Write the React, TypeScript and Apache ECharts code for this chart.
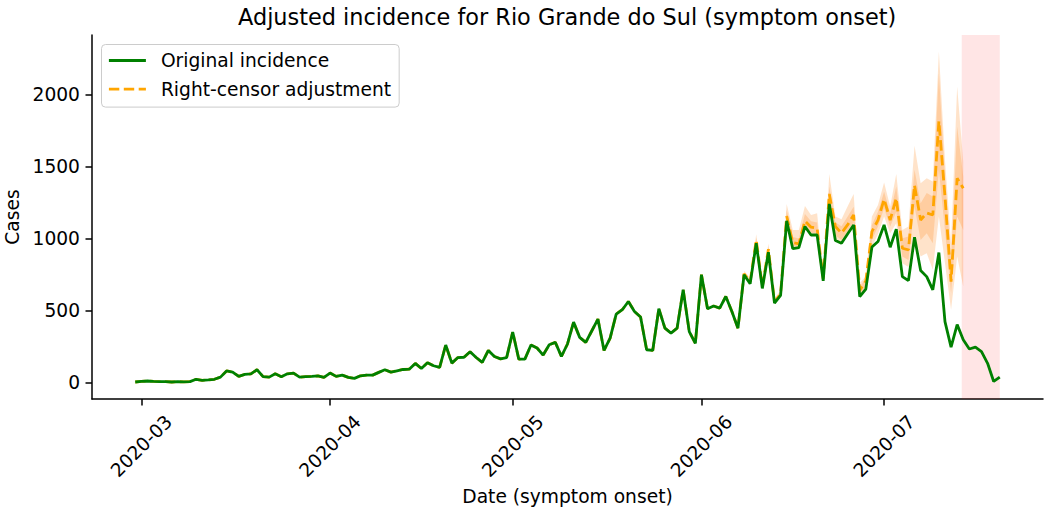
import React, { useEffect, useRef } from "react";
import * as echarts from "echarts";

// ---- data ----
const START_DATE = "2020-02-29"; // first day of the series (index 0)
const TITLE = "Adjusted incidence for Rio Grande do Sul (symptom onset)";
const X_NAME = "Date (symptom onset)";
const Y_NAME = "Cases";
const SERIES_ORIGINAL = "Original incidence";
const SERIES_ADJUSTED = "Right-censor adjustment";

const xTickLabels = ["2020-03", "2020-04", "2020-05", "2020-06", "2020-07"];
const yTicks = [0, 500, 1000, 1500, 2000];

// daily original incidence, 2020-02-29 .. 2020-07-20
const original = [
  3, 8, 10, 7, 6, 5, 3, 5, 4, 6,
  22, 15, 18, 22, 37, 80, 72, 42, 56, 60,
  88, 40, 37, 60, 40, 60, 65, 37, 40, 42,
  46, 35, 65, 42, 51, 35, 28, 46, 51, 51,
  70, 88, 72, 81, 90, 92, 132, 97, 137, 116,
  104, 260, 134, 173, 175, 213, 173, 139, 222, 180,
  164, 172, 350, 162, 162, 260, 239, 190, 262, 278,
  181, 267, 419, 313, 278, 359, 440, 222, 308, 475,
  505, 562, 493, 454, 227, 222, 512, 377, 343, 377,
  644, 353, 272, 748, 512, 531, 516, 597, 493, 377,
  748, 685, 967, 653, 904, 551, 604, 1122, 929, 937,
  1083, 1024, 1024, 706, 1240, 986, 967, 1031, 1094, 596,
  648, 940, 979, 1094, 939, 1065, 735, 707, 1008, 778,
  735, 643, 902, 422, 245, 402, 296, 232, 245, 214,
  133, 7, 37,
];

// adjusted values where they differ from the original (from index ADJ_START)
const ADJ_START = 100;
const adjusted = [
  755, 700, 990, 665, 926, 560, 615, 1156, 971, 963,
  1122, 1078, 1071, 720, 1309, 1083, 1037, 1094, 1163, 640,
  705, 1047, 1128, 1273, 1128, 1280, 932, 921, 1370, 1128,
  1177, 1163, 1815, 1292, 700, 1418, 1349,
];

// uncertainty bands (from index ADJ_START)
const outerLower = [
  748, 685, 967, 653, 904, 551, 604, 1122, 929, 937,
  1083, 1024, 1024, 706, 1240, 986, 967, 1031, 1094, 596,
  648, 943, 1031, 1152, 1036, 1106, 828, 801, 1014, 875,
  898, 783, 1152, 828, 505, 875, 666,
];
const innerLower = [
  750, 690, 975, 658, 912, 555, 608, 1135, 945, 945,
  1095, 1040, 1035, 710, 1260, 1020, 990, 1050, 1110, 610,
  665, 990, 1083, 1210, 1083, 1186, 875, 851, 1222, 990,
  1036, 967, 1476, 1059, 620, 1152, 1059,
];
const innerUpper = [
  762, 710, 1005, 675, 945, 570, 625, 1198, 1010, 1000,
  1170, 1120, 1110, 730, 1360, 1110, 1085, 1150, 1220, 665,
  720, 1094, 1186, 1325, 1175, 1360, 1002, 1014, 1477, 1245,
  1315, 1292, 2147, 1430, 851, 1776, 1430,
];
const outerUpper = [
  775, 725, 1030, 690, 965, 585, 640, 1240, 1059, 1059,
  1226, 1163, 1175, 745, 1448, 1152, 1134, 1222, 1309, 690,
  735, 1152, 1233, 1388, 1222, 1448, 1059, 1083, 1644, 1384,
  1418, 1395, 2298, 1545, 967, 2055, 1533,
];

const CENSOR_START = "2020-07-13T18:00:00Z";
const CENSOR_END = "2020-07-20T00:00:00Z";

// ---- helpers ----
const DAY = 86400000;
const t0 = Date.parse(START_DATE + "T00:00:00Z");
const dayOf = (iso: string) => (Date.parse(iso) - t0) / DAY;
const xTickValues = xTickLabels.map((l) => dayOf(l + "-01T00:00:00Z"));

const FONT = "DejaVu Sans";
const FS = 18.66;

export default function App() {
  const ref = useRef<HTMLDivElement>(null);

  useEffect(() => {
    if (!ref.current) return;
    const chart = echarts.init(ref.current, null, { renderer: "svg" });

    const lastIdx = original.length - 1;
    const adjustedFull = original
      .slice(0, ADJ_START + adjusted.length)
      .map((v, i) => (i >= ADJ_START ? adjusted[i - ADJ_START] : v));
    const bandIdx = adjusted.map((_, i) => ADJ_START + i);

    const bandSeries = (name: string, lo: number[], hi: number[], fill: string) => ({
      type: "custom",
      name,
      silent: true,
      z: 1,
      data: bandIdx.map((x, i) => [x, lo[i], hi[i]]),
      encode: { x: 0, y: [1, 2] },
      renderItem: (params: any, api: any) => {
        if (params.dataIndex !== 0) return null;
        const upper = bandIdx.map((x, i) => api.coord([x, hi[i]]));
        const lower = bandIdx.map((x, i) => api.coord([x, lo[i]])).reverse();
        return {
          type: "polygon",
          shape: { points: upper.concat(lower) },
          style: { fill },
        };
      },
    });

    const axisLineStyle = { color: "#000", width: 1.5 };
    const textBase = { fontFamily: FONT, fontSize: FS, color: "#000" };

    chart.setOption({
      animation: false,
      backgroundColor: "#fff",
      title: {
        text: TITLE,
        left: 238,
        top: 6,
        padding: 0,
        textStyle: { fontFamily: FONT, fontSize: 22.4, fontWeight: "normal", color: "#000" },
      },
      legend: {
        data: [SERIES_ORIGINAL, SERIES_ADJUSTED],
        orient: "vertical",
        left: 101.5,
        top: 44.5,
        padding: [6.5, 8, 8.5, 6],
        itemWidth: 37,
        itemHeight: 14,
        itemGap: 9.6,
        itemStyle: { opacity: 0 },
        lineStyle: { width: 2.8 },
        backgroundColor: "rgba(255,255,255,0.8)",
        borderColor: "#cccccc",
        borderWidth: 1,
        borderRadius: 4,
        textStyle: { ...textBase, lineHeight: 18, padding: [0, 0, 0, 10] },
      },
      grid: { left: 92, right: 1, top: 35, bottom: 110, containLabel: false, outerBoundsMode: "none" },
      xAxis: {
        type: "value",
        min: -7.1,
        max: lastIdx + 7.1,
        name: X_NAME,
        nameLocation: "middle",
        nameGap: 86,
        nameTextStyle: textBase,
        axisLine: { show: true, onZero: false, lineStyle: axisLineStyle },
        axisTick: { show: true, customValues: xTickValues, length: 6.5, lineStyle: axisLineStyle },
        axisLabel: {
          customValues: xTickValues,
          formatter: (v: number) => {
            const k = xTickValues.findIndex((t) => Math.abs(t - v) < 1e-6);
            return k >= 0 ? xTickLabels[k] : "";
          },
          rotate: 45,
          align: "center",
          verticalAlign: "middle",
          margin: 47,
          ...textBase,
        },
        splitLine: { show: false },
      },
      yAxis: {
        type: "value",
        min: -115,
        max: 2413,
        name: Y_NAME,
        nameLocation: "middle",
        nameGap: 57,
        nameTextStyle: textBase,
        axisLine: { show: true, onZero: false, lineStyle: axisLineStyle },
        axisTick: { show: true, customValues: yTicks, length: 6.5, lineStyle: axisLineStyle },
        axisLabel: {
          customValues: yTicks,
          margin: 12,
          formatter: (v: number) => String(v),
          ...textBase,
        },
        splitLine: { show: false },
      },
      series: [
        bandSeries("outer band", outerLower, outerUpper, "rgba(255,127,14,0.22)"),
        bandSeries("inner band", innerLower, innerUpper, "rgba(255,127,14,0.22)"),
        {
          type: "line",
          name: SERIES_ADJUSTED,
          z: 2,
          data: adjustedFull.map((v, i) => [i, v]),
          symbol: "none",
          lineStyle: { color: "#FFA500", width: 2.8, type: [10.4, 4.5] },
          itemStyle: { color: "#FFA500" },
          markArea: {
            silent: true,
            itemStyle: { color: "rgba(255,0,0,0.1)" },
            data: [[{ xAxis: dayOf(CENSOR_START) }, { xAxis: dayOf(CENSOR_END) }]],
          },
        },
        {
          type: "line",
          name: SERIES_ORIGINAL,
          z: 3,
          data: original.map((v, i) => [i, v]),
          symbol: "none",
          lineStyle: { color: "#008000", width: 2.8 },
          itemStyle: { color: "#008000" },
        },
      ],
    });

    return () => chart.dispose();
  }, []);

  return (
    <div
      ref={ref}
      style={{ position: "fixed", left: 0, top: 0, width: 1044, height: 509 }}
    />
  );
}
